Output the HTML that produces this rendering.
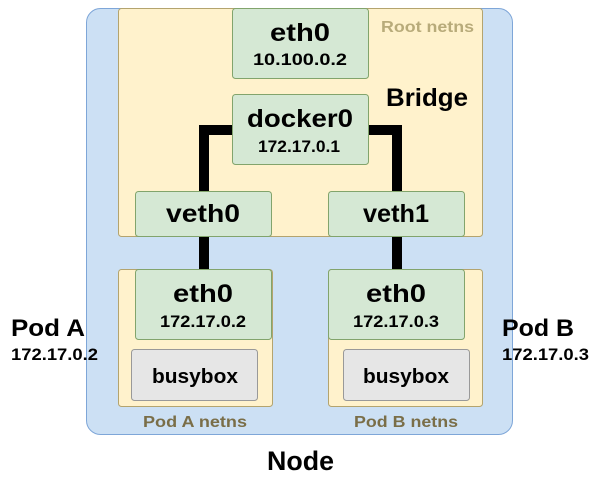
<!DOCTYPE html>
<html><head><meta charset="utf-8"><style>
html,body{margin:0;padding:0;background:#fff;}
svg{display:block;font-family:"Liberation Sans",sans-serif;font-weight:bold;}
</style></head><body>
<svg width="601" height="480" viewBox="0 0 601 480" xmlns="http://www.w3.org/2000/svg">
<rect x="86.5" y="8.5" width="426" height="426" rx="14" fill="#cce0f4" stroke="#7ea6d8" stroke-width="1"/>
<rect x="118.5" y="8.5" width="364" height="228" rx="3" fill="#fff2cc" stroke="#b4a46e" stroke-width="1"/>
<text x="381" y="32" font-size="16" fill="#b8ab7a" textLength="93" lengthAdjust="spacingAndGlyphs">Root netns</text>
<text x="386" y="106" font-size="25" fill="#000" textLength="82" lengthAdjust="spacingAndGlyphs">Bridge</text>
<path d="M232 130 H204 V191 M369 130 H397 V191 M204 237 V270 M397 237 V270" fill="none" stroke="#000" stroke-width="10"/>
<rect x="232.5" y="8.5" width="136" height="70" rx="3" fill="#d5e8d4" stroke="#82a46c"/>
<text x="270" y="41" font-size="25" textLength="60" lengthAdjust="spacingAndGlyphs">eth0</text>
<text x="253" y="65" font-size="17" textLength="94" lengthAdjust="spacingAndGlyphs">10.100.0.2</text>
<rect x="232.5" y="94.5" width="136" height="70" rx="3" fill="#d5e8d4" stroke="#82a46c"/>
<text x="247" y="127" font-size="25" textLength="106" lengthAdjust="spacingAndGlyphs">docker0</text>
<text x="258" y="152" font-size="17" textLength="82" lengthAdjust="spacingAndGlyphs">172.17.0.1</text>
<rect x="135.5" y="191.5" width="136" height="45" rx="3" fill="#d5e8d4" stroke="#82a46c"/>
<text x="166" y="222" font-size="25" textLength="74" lengthAdjust="spacingAndGlyphs">veth0</text>
<rect x="328.5" y="191.5" width="136" height="45" rx="3" fill="#d5e8d4" stroke="#82a46c"/>
<text x="363" y="222" font-size="25" textLength="66" lengthAdjust="spacingAndGlyphs">veth1</text>
<rect x="118.5" y="269.5" width="154" height="137" rx="3" fill="#fff2cc" stroke="#b4a46e"/>
<rect x="135.5" y="269.5" width="136" height="70" rx="3" fill="#d5e8d4" stroke="#82a46c"/>
<text x="173" y="302" font-size="25" textLength="60" lengthAdjust="spacingAndGlyphs">eth0</text>
<text x="160" y="327" font-size="17" textLength="86" lengthAdjust="spacingAndGlyphs">172.17.0.2</text>
<rect x="131.5" y="349.5" width="126" height="51" rx="3" fill="#e6e6e6" stroke="#999"/>
<text x="152" y="383" font-size="20" textLength="86" lengthAdjust="spacingAndGlyphs">busybox</text>
<text x="143" y="427" font-size="16" fill="#7a6e48" textLength="104" lengthAdjust="spacingAndGlyphs">Pod A netns</text>
<rect x="328.5" y="269.5" width="154" height="137" rx="3" fill="#fff2cc" stroke="#b4a46e"/>
<rect x="328.5" y="269.5" width="136" height="70" rx="3" fill="#d5e8d4" stroke="#82a46c"/>
<text x="366" y="302" font-size="25" textLength="60" lengthAdjust="spacingAndGlyphs">eth0</text>
<text x="353" y="327" font-size="17" textLength="86" lengthAdjust="spacingAndGlyphs">172.17.0.3</text>
<rect x="343.5" y="349.5" width="126" height="51" rx="3" fill="#e6e6e6" stroke="#999"/>
<text x="363" y="383" font-size="20" textLength="86" lengthAdjust="spacingAndGlyphs">busybox</text>
<text x="354" y="427" font-size="16" fill="#7a6e48" textLength="104" lengthAdjust="spacingAndGlyphs">Pod B netns</text>
<text x="11" y="336" font-size="24" textLength="74" lengthAdjust="spacingAndGlyphs">Pod A</text>
<text x="11" y="360" font-size="17" textLength="87" lengthAdjust="spacingAndGlyphs">172.17.0.2</text>
<text x="502" y="336" font-size="24" textLength="72" lengthAdjust="spacingAndGlyphs">Pod B</text>
<text x="502" y="360" font-size="17" textLength="87" lengthAdjust="spacingAndGlyphs">172.17.0.3</text>
<text x="267" y="470" font-size="27" textLength="67" lengthAdjust="spacingAndGlyphs">Node</text>
</svg>
</body></html>
